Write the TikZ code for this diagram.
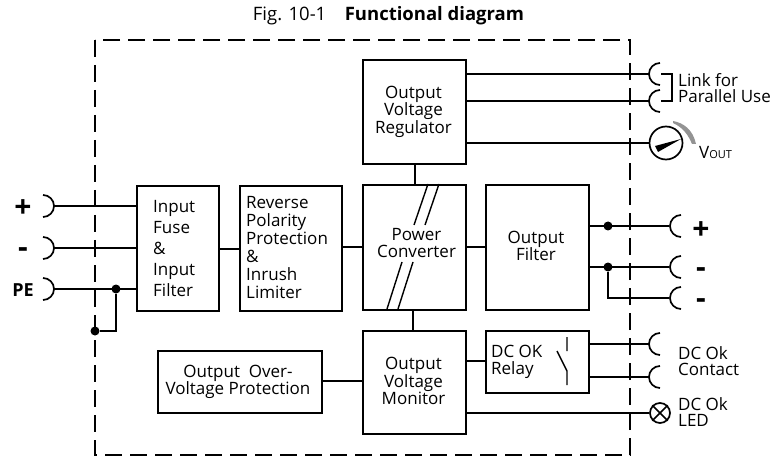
\documentclass[tikz,border=0pt]{standalone}
\usepackage{fontspec}
\setmainfont{Open Sans}
\begin{document}
\begin{tikzpicture}[x=1pt,y=-1pt,
  line/.style={line width=1.7pt,black},
  boxs/.style={draw,line width=1.8pt,minimum width=0pt,inner sep=0pt},
  txt/.style={font=\fontsize{17}{17.5}\selectfont,align=center,inner sep=0pt},
  lbl/.style={font=\fontsize{17}{16.5}\selectfont,align=left,inner sep=0pt,anchor=west},
  sign/.style={font=\fontsize{30}{30}\selectfont\bfseries,inner sep=0pt},
  dotn/.style={circle,fill=black,inner sep=0pt,minimum size=9pt}]
\useasboundingbox (0,0) rectangle (771,457);
\tikzset{pxbox/.style args={#1,#2,#3,#4}{boxs,minimum width=#3-#1,minimum height=#4-#2,anchor=north west}}
\draw[line width=2.7pt,dash pattern=on 17pt off 8pt] (95,40) rectangle (630,455);
\node[font=\fontsize{18.5}{20}\selectfont,inner sep=0pt] (title) at (388.5,16) {Fig. 10-1\quad\textbf{Functional diagram}};
\node[pxbox={362,59,465,163}] (reg) at (362,59) {};
\node[txt] (regt) at (413.5,111.5) {Output\\Voltage\\Regulator};
\node[pxbox={136,185,218,310}] (fuse) at (136,185) {};
\node[txt,align=left,anchor=west,font=\fontsize{17}{21}\selectfont] (fuset) at (153,249) {Input\\Fuse\\\&\\Input\\Filter};
\node[pxbox={239,185,341,310}] (rev) at (239,185) {};
\node[txt,align=left,anchor=west,font=\fontsize{17}{18}\selectfont] (revt) at (246,248) {Reverse\\Polarity\\Protection\\\&\\Inrush\\Limiter};
\node[pxbox={362,184,465,309}] (pc) at (362,184) {};
\node[txt] (pct) at (416.5,243) {Power\\Converter};
\node[pxbox={485,184,588,309}] (of) at (485,184) {};
\node[txt] (oft) at (536,246) {Output\\Filter};
\node[pxbox={362,330,465,433}] (mon) at (362,330) {};
\node[txt] (mont) at (413.5,381) {Output\\Voltage\\Monitor};
\node[pxbox={485,330,588,392}] (rel) at (485,330) {};
\node[txt,align=left,anchor=west] (relt) at (491,362) {DC OK\\Relay};
\node[pxbox={157,350,321,412}] (ovp) at (157,350) {};
\node[txt] (ovpt) at (238,382) {Output\ \ Over-\\Voltage Protection};
% internal connectors
\draw[line] (fuse.east|-0,249) -- (rev.west|-0,249);
\draw[line] (rev.east|-0,247) -- (pc.west|-0,247);
\draw[line] (pc.east|-0,247) -- (of.west|-0,247);
\draw[line] (reg.south-|415,0) -- (pc.north-|415,0);
\draw[line] (pc.south-|413,0) -- (mon.north-|413,0);
\draw[line] (ovp.east|-0,381) -- (mon.west|-0,381);
\draw[line] (mon.east|-0,361) -- (rel.west|-0,361);
% slashes
\draw[line width=1.4pt] (428,184) -- (414,225) (439,184) -- (425,225);
\draw[line width=1.4pt] (402,262) -- (387,309) (413,262) -- (398,309);
% switch
\draw[line width=1.4pt] (567,337) -- (567,351) (557,351) -- (567,371) -- (567,385);
% left connectors
\foreach \n/\y in {lp/206,lm/248,lpe/289}{
  \coordinate (\n) at (54,\y);
  \draw[line] (43,\y-11) arc[start angle=-90,end angle=90,radius=11,y=-1pt] ;
  \draw[line] (\n) -- (fuse.west|-\n);
}
\node[sign] (lpt) at (23,209) {+};
\node[sign] (lmt) at (23,253) {-};
\node[sign,font=\fontsize{18}{18}\selectfont\bfseries] (lpet) at (23,290) {PE};
\node[dotn] (d1) at (116,289) {};
\node[dotn] (d2) at (95,331) {};
\draw[line] (d1) |- (d2);
% right outputs
\foreach \n/\y in {rp/226,rm/267,rn/298}{
  \coordinate (\n) at (669,\y);
  \draw[line] (681,\y-11) arc[start angle=-90,end angle=-270,radius=11,y=-1pt];
}
\node[dotn] (d3) at (608,226) {};
\node[dotn] (d4) at (608,267) {};
\draw[line] (of.east|-rp) -- (rp);
\draw[line] (of.east|-rm) -- (rm);
\draw[line] (d4) |- (rn);
\node[sign] (rpt) at (701,231) {+};
\node[sign] (rmt) at (701,273) {-};
\node[sign] (rnt) at (701,304) {-};
% DC ok
\foreach \n/\y in {ca/344,cb/377}{
  \coordinate (\n) at (649,\y);
  \draw[line] (660,\y-11) arc[start angle=-90,end angle=-270,radius=11,y=-1pt];
  \draw[line] (rel.east|-\n) -- (\n);
}
\node[lbl] (okc) at (678,361) {DC Ok\\Contact};
\node[circle,draw,line width=1.7pt,minimum size=20pt,inner sep=0pt] (led) at (660,413) {};
\draw[line] (mon.east|-led) -- (led.west);
\draw[line] (led.north west) -- (led.south east) (led.north east) -- (led.south west);
\node[lbl] (okl) at (678,412) {DC Ok\\LED};
% link
\foreach \n/\y in {la/74,lb/101}{
  \coordinate (\n) at (649,\y);
  \draw[line] (660,\y-11) arc[start angle=-90,end angle=-270,radius=11,y=-1pt];
  \draw[line] (reg.east|-\n) -- (\n);
}
\coordinate (ba) at (661,74);\coordinate (bb) at (661,101);
\draw[line width=1.4pt] (ba) -- ++(11,0) -- ++(0,27) -- (bb);
\node[lbl] (lk) at (678,88) {Link for\\Parallel Use};
% meter
\node[circle,draw,line width=1.7pt,minimum size=33pt,inner sep=0pt] (m) at (666,143) {};
\draw[line] (reg.east|-m) -- (m.west);
\fill (655,146) -- (681,139) -- (658,152) -- cycle;
\fill[gray!85] (673,121) .. controls (684,123) and (693,130) .. (696,144) -- (692,144) .. controls (688,134) and (682,127) .. (673,123) -- cycle;
\node[inner sep=0pt,anchor=west] (vo) at (699,152) {\fontsize{17}{18}\selectfont V\fontsize{11}{13}\selectfont OUT};
\end{tikzpicture}
\end{document}
